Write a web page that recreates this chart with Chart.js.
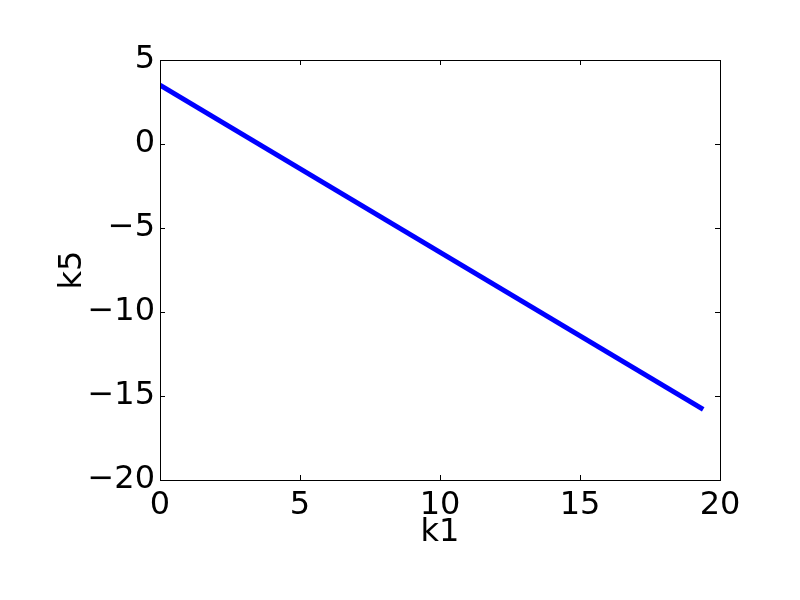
<!DOCTYPE html>
<html>
<head>
<meta charset="utf-8">
<script src="https://cdn.jsdelivr.net/npm/chart.js@4"></script>
<style>
    html, body { margin: 0; padding: 0; background: #fff; }
    #wrap { width: 800px; height: 600px; }
</style>
</head>
<body>
<div id="wrap"><canvas id="chart" width="800" height="600"></canvas></div>
<script>
// values
const k1Values = [0, 19.4];
const k5Values = [3.5, -15.8];
const xTicks = [0, 5, 10, 15, 20];
const yTicks = [-20, -15, -10, -5, 0, 5];

const FONT = 'DejaVu Sans';
const minus = v => String(v).replace('-', '\u2212');

// matplotlib style: box around the plot, ticks pointing inwards on all sides
const boxTicks = {
    id: 'boxTicks',
    afterDraw(chart) {
        const { ctx, chartArea: a, scales } = chart;
        ctx.save();
        ctx.strokeStyle = '#000';
        ctx.lineWidth = 1;
        ctx.strokeRect(a.left + 0.5, a.top + 0.5, a.right - a.left, a.bottom - a.top);
        ctx.beginPath();
        xTicks.forEach(v => {
            const x = Math.round(scales.x.getPixelForValue(v)) + 0.5;
            ctx.moveTo(x, a.bottom); ctx.lineTo(x, a.bottom - 5);
            ctx.moveTo(x, a.top); ctx.lineTo(x, a.top + 5);
        });
        yTicks.forEach(v => {
            const y = Math.round(scales.y.getPixelForValue(v)) + 0.5;
            ctx.moveTo(a.left, y); ctx.lineTo(a.left + 5, y);
            ctx.moveTo(a.right, y); ctx.lineTo(a.right - 5, y);
        });
        ctx.stroke();
        ctx.restore();
    }
};

new Chart(document.getElementById('chart'), {
    type: 'scatter',
    data: {
        datasets: [{
            data: k1Values.map((x, i) => ({ x: x, y: k5Values[i] })),
            showLine: true,
            borderColor: '#0000ff',
            borderWidth: 5,
            pointRadius: 0,
            fill: false
        }]
    },
    options: {
        responsive: false,
        animation: false,
        layout: { padding: { top: 60, right: 80, bottom: 0, left: 0 } },
        plugins: { legend: { display: false }, tooltip: { enabled: false } },
        scales: {
            x: {
                type: 'linear',
                min: 0, max: 20,
                afterBuildTicks: s => { s.ticks = xTicks.map(v => ({ value: v })); },
                afterFit: s => { s.height = 120; },
                grid: { display: false, drawTicks: false },
                border: { display: false },
                ticks: { color: '#000', padding: 6, maxRotation: 0, font: { family: FONT, size: 32 }, callback: minus },
                title: { display: true, text: 'k1', color: '#000', font: { family: FONT, size: 32 }, padding: { top: 0, bottom: 48 } }
            },
            y: {
                type: 'linear',
                min: -20, max: 5,
                afterBuildTicks: s => { s.ticks = yTicks.map(v => ({ value: v })); },
                afterFit: s => { s.width = 160; },
                grid: { display: false, drawTicks: false },
                border: { display: false },
                ticks: { color: '#000', padding: 5, font: { family: FONT, size: 32 }, callback: minus },
                title: { display: true, text: 'k5', color: '#000', font: { family: FONT, size: 32 }, padding: { top: 53, bottom: 0 } }
            }
        }
    },
    plugins: [boxTicks]
});
</script>
</body>
</html>
